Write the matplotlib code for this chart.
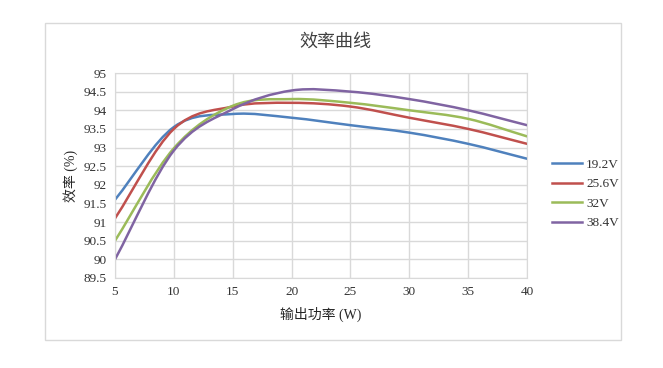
import numpy as np
import matplotlib
matplotlib.use('Agg')
import matplotlib.pyplot as plt
from matplotlib.path import Path
from matplotlib.patches import PathPatch, Rectangle
from matplotlib.lines import Line2D

plt.rcParams['font.family'] = ['Liberation Serif', 'Noto Sans CJK SC', 'DejaVu Sans']

power = [5, 10, 15, 20, 25, 30, 35, 40]
eff_192 = [91.6, 93.55, 93.9, 93.8, 93.6, 93.4, 93.1, 92.7]
eff_256 = [91.1, 93.5, 94.1, 94.2, 94.1, 93.8, 93.5, 93.1]
eff_320 = [90.5, 92.98, 94.12, 94.3, 94.2, 94.0, 93.77, 93.3]
eff_384 = [90.0, 92.92, 94.03, 94.53, 94.5, 94.3, 94.0, 93.6]
labels = ['19.2V', '25.6V', '32V', '38.4V']
colors = ['#4F81BD', '#C0504D', '#9BBB59', '#8064A2']


def smooth_path(x, y):
    # Excel-like smoothed line: cubic bezier segments (catmull-rom tangents)
    p = np.column_stack([x, y]).astype(float)
    ext = np.vstack([2 * p[0] - p[1], p, 2 * p[-1] - p[-2]])
    verts = [p[0]]
    codes = [Path.MOVETO]
    for i in range(len(p) - 1):
        p0, p1, p2, p3 = ext[i], ext[i + 1], ext[i + 2], ext[i + 3]
        c1 = p1 + (p2 - p0) / 6.0
        c2 = p2 - (p3 - p1) / 6.0
        verts += [c1, c2, p2]
        codes += [Path.CURVE4] * 3
    return Path(verts, codes)


fig = plt.figure(figsize=(6.63, 3.68), dpi=100)
fig.patches.append(Rectangle((45 / 663, 1 - 340 / 368), 576 / 663, 317 / 368,
                             transform=fig.transFigure, fill=False,
                             edgecolor='#D9D9D9', linewidth=1))

ax = fig.add_axes([115 / 663, 1 - 278 / 368, 412 / 663, 205 / 368])

series = [eff_192, eff_256, eff_320, eff_384]
for ys, c in zip(series, colors):
    ax.add_patch(PathPatch(smooth_path(power, ys), facecolor='none',
                           edgecolor=c, linewidth=1.8, capstyle='round'))

ax.set_xlim(5, 40)
ax.set_ylim(89.5, 95)
ax.set_xticks([5, 10, 15, 20, 25, 30, 35, 40])
ax.set_yticks(np.arange(89.5, 95.01, 0.5))
ax.set_yticklabels(['89.5', '90', '90.5', '91', '91.5', '92', '92.5',
                    '93', '93.5', '94', '94.5', '95'])
ax.grid(True, color='#D9D9D9', linewidth=1)
ax.set_axisbelow(True)
for s in ax.spines.values():
    s.set_color('#D9D9D9')
ax.tick_params(length=0, labelsize=9.5, colors='#333333', pad=6)

ax.set_xlabel('输出功率 (W)', fontsize=10, color='#262626', labelpad=6)
ax.set_ylabel('效率 (%)', fontsize=10, color='#262626', labelpad=4)
fig.text(335 / 663, 1 - 42 / 368, '效率曲线', fontsize=13, color='#404040',
         ha='center', va='center', family=['Noto Sans CJK SC'])

handles = [Line2D([], [], color=c, linewidth=1.8) for c in colors]
fig.legend(handles, labels, loc='center left',
           bbox_to_anchor=(540 / 663, 1 - 194 / 368), frameon=False,
           fontsize=9.5, handlelength=2.3, handletextpad=0.3,
           labelspacing=0.55, labelcolor='#333333')

plt.savefig('out.png', dpi=100)
